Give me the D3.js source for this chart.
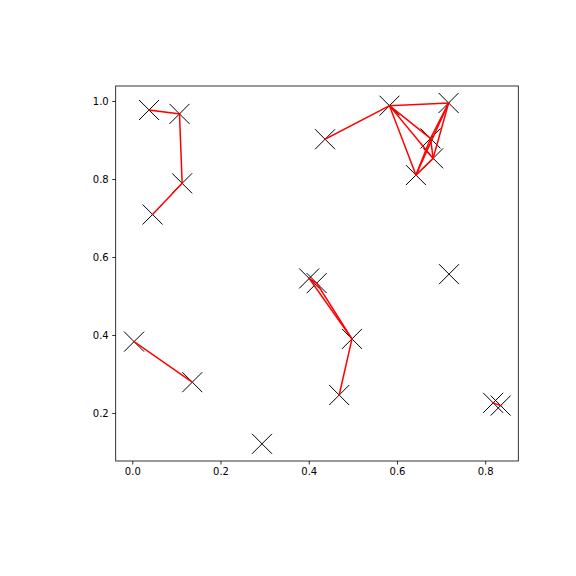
<!DOCTYPE html>
<html>
<head>
<meta charset="utf-8">
<script src="https://cdn.jsdelivr.net/npm/d3@7"></script>
<style>
html,body{margin:0;padding:0;background:#fff;}
svg{display:block;}
text{font-family:"DejaVu Sans",sans-serif;font-size:10px;fill:#000;}
</style>
</head>
<body>
<svg id="chart" width="576" height="576"></svg>
<script>
const xs = [0.038,0.107,0.113,0.046,0.004,0.136,0.294,0.401,0.418,0.498,0.469,0.437,0.583,0.717,0.676,0.682,0.643,0.718,0.818,0.835];
const ys = [0.977,0.967,0.789,0.709,0.383,0.279,0.121,0.545,0.533,0.390,0.246,0.902,0.988,0.995,0.904,0.853,0.810,0.556,0.226,0.219];
const edges = [[0,1],[1,2],[2,3],[4,5],[7,8],[7,9],[8,9],[9,10],[11,12],[12,13],[12,14],[12,15],[12,16],[13,14],[13,15],[13,16],[14,15],[14,16],[15,16],[18,19]];
const xTicks = [0.0,0.2,0.4,0.6,0.8];
const yTicks = [0.2,0.4,0.6,0.8,1.0];

const svg = d3.select("#chart");
const L = 115.7, R = 518.3, T = 86, B = 461;
const x = d3.scaleLinear().domain([-0.0376, 0.875]).range([L, R]);
const y = d3.scaleLinear().domain([0.0769, 1.0385]).range([B, T]);

const pts = xs.map((v,i)=>({x:v,y:ys[i]}));

// markers
const ms = 10;
const mg = svg.append("g");
pts.forEach(p=>{
  const cx = x(p.x), cy = y(p.y);
  mg.append("path")
    .attr("d",`M${cx-ms},${cy-ms}L${cx+ms},${cy+ms}M${cx-ms},${cy+ms}L${cx+ms},${cy-ms}`)
    .attr("stroke","#000").attr("stroke-width",1).attr("fill","none");
});

// edges
svg.append("g").selectAll("line").data(edges).join("line")
  .attr("x1",d=>x(pts[d[0]].x)).attr("y1",d=>y(pts[d[0]].y))
  .attr("x2",d=>x(pts[d[1]].x)).attr("y2",d=>y(pts[d[1]].y))
  .attr("stroke","red").attr("stroke-width",1.5).attr("stroke-linecap","square");

// axes
const xAxis = d3.axisBottom(x).tickValues(xTicks).tickFormat(d3.format(".1f")).tickSizeOuter(0).tickSize(3.5).tickPadding(3.5);
const yAxis = d3.axisLeft(y).tickValues(yTicks).tickFormat(d3.format(".1f")).tickSizeOuter(0).tickSize(3.5).tickPadding(3.5);
const gx = svg.append("g").attr("transform",`translate(0,${B})`).call(xAxis);
const gy = svg.append("g").attr("transform",`translate(${L},0)`).call(yAxis);
[gx,gy].forEach(g=>{
  g.select(".domain").remove();
  g.selectAll(".tick line").attr("stroke","#000").attr("stroke-width",0.8);
  g.selectAll(".tick text").attr("fill","#000").style("font-family","DejaVu Sans").style("font-size","10px");
});

// frame
svg.append("rect").attr("x",L).attr("y",T).attr("width",R-L).attr("height",B-T)
  .attr("fill","none").attr("stroke","#000").attr("stroke-width",0.8);
</script>
</body>
</html>
